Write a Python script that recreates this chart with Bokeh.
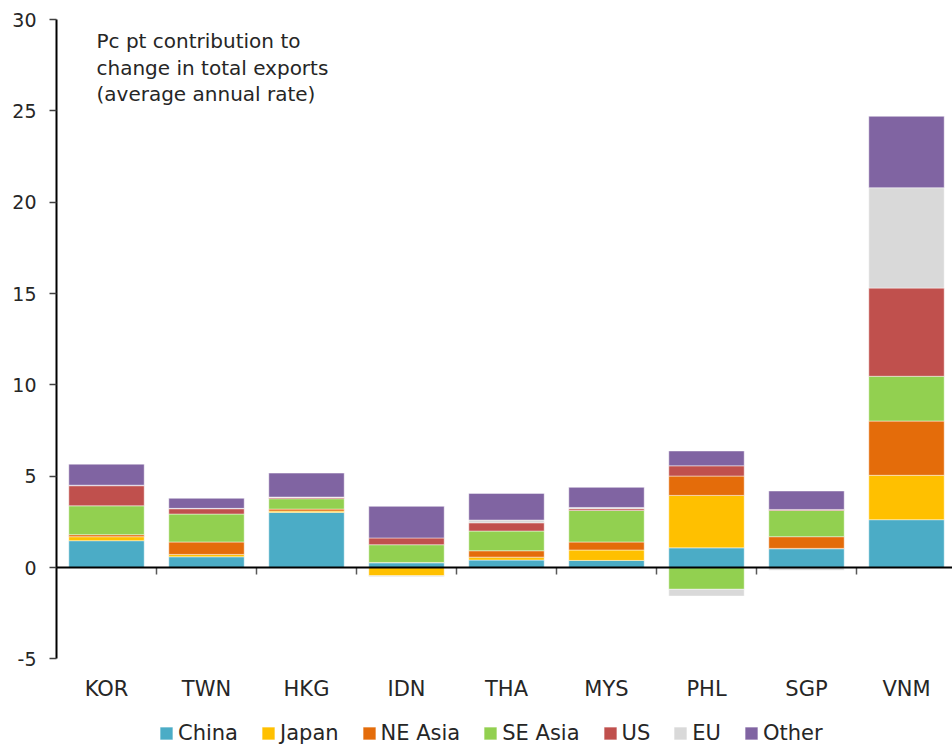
import numpy as np
from bokeh.plotting import figure
from bokeh.models import (Range1d, FixedTicker, Span, Legend, LegendItem, Label,
                          ColumnDataSource)
from bokeh.core.properties import value
from bokeh.embed import file_html
from bokeh.resources import INLINE

# ---- data ----
categories = ["KOR", "TWN", "HKG", "IDN", "THA", "MYS", "PHL", "SGP", "VNM"]
series_names = ["China", "Japan", "NE Asia", "SE Asia", "US", "EU", "Other"]
china   = [1.47, 0.59, 3.02, 0.26, 0.41, 0.39, 1.08, 1.03, 2.62]
japan   = [0.22, 0.13, 0.07, -0.45, 0.16, 0.57, 2.87, 0.02, 2.43]
ne_asia = [0.11, 0.68, 0.11, 0.02, 0.35, 0.44, 1.06, 0.64, 2.97]
se_asia = [1.58, 1.53, 0.57, 0.97, 1.08, 1.73, -1.19, 1.44, 2.45]
us      = [1.10, 0.29, 0.07, 0.37, 0.45, 0.09, 0.56, 0.05, 4.83]
eu      = [0.03, 0.02, 0.02, -0.05, 0.15, 0.07, -0.37, -0.15, 5.49]
other   = [1.15, 0.55, 1.31, 1.73, 1.46, 1.10, 0.81, 1.01, 3.91]
y_ticks = [-5, 0, 5, 10, 15, 20, 25, 30]
note_lines = ["Pc pt contribution to", "change in total exports", "(average annual rate)"]

series = [china, japan, ne_asia, se_asia, us, eu, other]
colors = ["#4BACC6", "#FFC000", "#E46C0A", "#92D050", "#C0504D", "#D9D9D9", "#8064A2"]

FONT = "DejaVu Sans"
TXT = "#262626"
Y_MIN, Y_MAX = -5, 30

x = np.arange(len(categories))

# frame extends below the axis so category labels and legend sit inside it
p = figure(width=952, height=745, output_backend="svg", toolbar_location=None,
           x_range=Range1d(-0.5, 8.46), y_range=Range1d(-9.74, Y_MAX),
           min_border_left=56, min_border_right=0, min_border_top=19,
           min_border_bottom=0)
p.outline_line_color = None
p.xgrid.grid_line_color = None
p.ygrid.grid_line_color = None
p.background_fill_color = "white"
p.xaxis.visible = False

# stacking: positives upward, negatives downward
pos = np.zeros(len(categories))
neg = np.zeros(len(categories))
items = []
for name, vals, col in zip(series_names, series, colors):
    v = np.array(vals, dtype=float)
    bottom = np.where(v >= 0, pos, neg + v)
    top = np.where(v >= 0, pos + v, neg)
    pos = np.where(v >= 0, pos + v, pos)
    neg = np.where(v < 0, neg + v, neg)
    src = ColumnDataSource(dict(x=x, bottom=bottom, top=top))
    r = p.vbar(x="x", bottom="bottom", top="top", width=0.754, source=src,
               fill_color=col, line_color="white", line_alpha=0.45, line_width=1)
    items.append(LegendItem(label=name, renderers=[r]))

# zero line with category-boundary ticks
p.add_layout(Span(location=0, dimension="width", line_color="black", line_width=2))
bx = x[:-1] + 0.5
p.segment(x0=bx, x1=bx, y0=np.zeros(len(bx)), y1=np.full(len(bx), -0.38),
          line_color="#595959", line_width=1.5)

# category labels
p.text(x=x, y=np.full(len(x), -6.64), text=categories, text_font=value(FONT),
       text_font_size="21px", text_color=TXT, text_align="center",
       text_baseline="middle")

# y axis
yax = p.yaxis[0]
yax.bounds = (Y_MIN, Y_MAX)
yax.ticker = FixedTicker(ticks=y_ticks)
yax.major_label_overrides = {t: str(t) for t in y_ticks}
yax.axis_line_color = "black"
yax.axis_line_width = 2
yax.major_tick_line_color = "#404040"
yax.major_tick_line_width = 1.5
yax.major_tick_out = 7
yax.major_tick_in = 0
yax.minor_tick_line_color = None
yax.major_label_text_font = FONT
yax.major_label_text_font_size = "19px"
yax.major_label_text_color = TXT
yax.major_label_standoff = 13

# note
for i, line in enumerate(note_lines):
    p.add_layout(Label(x=-0.1, y=28.8 - 1.45 * i, text=line, text_font=FONT,
                       text_font_size="20px", text_color=TXT, text_baseline="middle"))

legend = Legend(items=items, orientation="horizontal", location=(102, 0),
                border_line_color=None, background_fill_alpha=0,
                glyph_width=16, glyph_height=16, label_standoff=4, spacing=22,
                padding=0, margin=0, label_text_font=FONT,
                label_text_font_size="21px", label_text_color=TXT)
p.add_layout(legend, "center")

open("out.html", "w").write(file_html(p, INLINE))
